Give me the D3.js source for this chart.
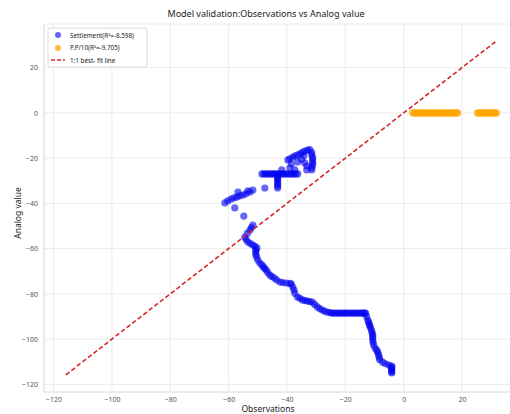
<!DOCTYPE html>
<html>
<head>
<meta charset="utf-8">
<script src="https://cdn.jsdelivr.net/npm/d3@7"></script>
<style>
  html, body { margin: 0; padding: 0; background: #fff; }
  svg { display: block; font-family: "Noto Sans", "DejaVu Sans", sans-serif; }
</style>
</head>
<body>
<svg id="chart" width="510" height="414"></svg>
<script>
// Settlement: observed vs simulated (mm)
const settlementObs = [
  // upper cluster
  -39.7, -39.0, -38.0, -37.2, -36.3, -35.4, -34.6, -33.8, -32.9, -32.2, -31.5, -31.5, -31.2,
  -31.2, -31.2, -31.2, -31.5, -31.5, -33.9, -33.2, -33.2, -36.3, -35.0, -37.3, -38.5, -34.2,
  // band at -27
  -48.6, -47.9, -47.3, -46.6, -45.9, -45.2, -44.5, -43.9, -43.2, -42.5, -41.8, -41.1, -40.4,
  -39.7, -39.0, -38.4, -37.7, -37.0, -36.3,
  -43.2, -43.2, -43.2, -43.2, -43.2, -43.2, -43.2, -41.8, -39.0, -47.6,
  // arc
  -61.3, -60.3, -59.2, -58.2, -57.2, -56.2, -55.1, -54.1, -52.7, -51.7, -56.8, -53.4,
  -57.9, -54.8,
  // descending branch
  -51.7, -52.2, -52.7, -53.6, -54.5, -54.0, -53.4, -52.5, -51.7, -51.0, -50.3, -50.7, -50.7,
  -50.7, -50.4, -50.0, -49.3, -48.6, -48.1, -47.6, -47.1, -46.6, -45.9, -45.2, -44.3, -43.5,
  -42.4, -41.4, -40.2, -39.0, -38.5, -38.0, -37.6, -37.3, -36.4, -35.6, -34.7, -33.9, -33.0,
  -32.2, -31.3, -30.5, -29.6, -28.8, -27.9, -27.1, -26.2, -25.3,
  -24.7, -24.0, -23.3, -22.6, -21.9, -21.2, -20.5, -19.9, -19.2, -18.5, -17.8, -17.1, -16.5,
  -15.8, -15.1, -14.4, -13.9, -13.4,
  -13.0, -12.7, -12.3, -12.0, -11.8, -11.6, -11.3, -11.0, -10.8, -10.6, -10.6, -10.6, -10.5,
  -10.3, -9.8, -9.2, -8.9, -8.6, -8.4, -8.2, -7.2, -6.2, -5.1, -4.1,
  -4.1, -4.1, -4.1, -4.1, -4.1
];
const settlementSim = [
  -20.8, -20.3, -19.5, -19.0, -18.6, -18.0, -17.3, -16.9, -16.4, -16.2, -17.5, -18.6, -19.8,
  -20.8, -22.0, -23.0, -24.2, -25.2, -22.1, -23.5, -25.2, -21.7, -20.5, -25.2, -22.5, -19.0,
  -27.0, -27.0, -27.0, -27.0, -27.0, -27.0, -27.0, -27.0, -27.0, -27.0, -27.0, -27.0, -27.0,
  -27.0, -27.0, -27.0, -27.0, -27.0, -27.0,
  -28.0, -28.8, -29.6, -30.5, -31.4, -32.3, -33.2, -25.2, -24.3, -33.2,
  -39.8, -38.9, -38.1, -37.6, -37.2, -36.7, -36.3, -35.8, -35.0, -34.1, -35.0, -34.5,
  -42.0, -45.6,
  -49.6, -50.7, -51.8, -53.3, -54.9, -56.0, -57.1, -57.8, -58.4, -59.0, -59.7, -60.6, -61.5,
  -62.6, -63.7, -65.0, -66.4, -67.2, -68.1, -68.8, -69.5, -70.6, -71.7, -72.3, -73.0, -73.9,
  -74.8, -75.0, -75.2, -75.4, -75.7, -77.0, -78.3, -79.8, -81.4, -82.0, -82.7, -83.0, -83.2,
  -83.4, -83.6, -84.7, -85.8, -86.5, -87.2, -87.6, -88.1, -88.3, -88.5,
  -88.5, -88.5, -88.5, -88.5, -88.5, -88.5, -88.5, -88.5, -88.5, -88.5, -88.5, -88.5, -88.5,
  -88.5, -88.5, -88.5, -88.5, -88.5,
  -90.0, -91.6, -92.5, -93.4, -94.2, -95.1, -96.2, -97.3, -98.2, -99.1, -100.2, -101.3, -102.6,
  -104.0, -104.9, -105.8, -106.9, -108.0, -109.1, -110.2, -110.9, -111.5, -112.0, -112.4,
  -113.0, -113.7, -114.4, -115.0, -115.8
];

// Pore pressure / 10: observed vs simulated
const ppObs = [3.1, 3.8, 4.4, 5.1, 5.7, 6.4, 7.0, 7.7, 8.3, 9.0, 9.6, 10.3, 10.9, 11.6, 12.2,
               12.9, 13.5, 14.2, 14.8, 15.5, 16.1, 16.8, 17.4, 18.0, 18.5,
               25.3, 25.9, 26.5, 27.1, 27.7, 28.3, 28.9, 29.5, 30.1, 30.7, 31.3, 31.8];
const ppSim = ppObs.map(() => 0);

const xTicks = [-120, -100, -80, -60, -40, -20, 0, 20];
const yTicks = [-120, -100, -80, -60, -40, -20, 0, 20];

const legendLabels = ["Settlement(R\u00b2=-8.598)", "P.P/10(R\u00b2=-9.705)", "1:1 best- fit line"];
const titleText = "Model validation:Observations vs Analog value";

const svg = d3.select("#chart");
const plot = { left: 44, right: 518, top: 24, bottom: 392 };

const x = d3.scaleLinear().domain([-123.3, 39.2]).range([plot.left, plot.right]);
const y = d3.scaleLinear().domain([-123.4, 39.3]).range([plot.bottom, plot.top]);

// grid
const grid = svg.append("g");
grid.selectAll(".gx").data(xTicks).join("line")
  .attr("x1", d => x(d)).attr("x2", d => x(d))
  .attr("y1", plot.top).attr("y2", plot.bottom)
  .attr("stroke", "#ececec").attr("stroke-width", 1);
grid.selectAll(".gy").data(yTicks).join("line")
  .attr("x1", plot.left).attr("x2", plot.right)
  .attr("y1", d => y(d)).attr("y2", d => y(d))
  .attr("stroke", "#ececec").attr("stroke-width", 1);

// frame
svg.append("line").attr("x1", plot.left).attr("x2", plot.right)
  .attr("y1", plot.top).attr("y2", plot.top).attr("stroke", "#ececec");
svg.append("line").attr("x1", plot.left).attr("x2", plot.left)
  .attr("y1", plot.top).attr("y2", plot.bottom).attr("stroke", "#d6d6d6");
svg.append("line").attr("x1", plot.left).attr("x2", plot.right)
  .attr("y1", plot.bottom).attr("y2", plot.bottom).attr("stroke", "#d6d6d6");

// axes
const xAxis = svg.append("g").attr("transform", `translate(0,${plot.bottom})`)
  .call(d3.axisBottom(x).tickValues(xTicks).tickSize(0).tickPadding(5).tickFormat(d3.format("d")));
const yAxis = svg.append("g").attr("transform", `translate(${plot.left},0)`)
  .call(d3.axisLeft(y).tickValues(yTicks).tickSize(0).tickPadding(6).tickFormat(d3.format("d")));
[xAxis, yAxis].forEach(a => {
  a.select(".domain").remove();
  a.selectAll("text").attr("fill", "#555").style("font-size", "7px")
    .style("font-family", "'Noto Sans', 'DejaVu Sans', sans-serif");
});

// points
const settlement = settlementObs.map((v, i) => ({ o: v, s: settlementSim[i] }));
const pp = ppObs.map((v, i) => ({ o: v, s: ppSim[i] }));

svg.append("g").selectAll("circle").data(settlement).join("circle")
  .attr("cx", d => x(d.o)).attr("cy", d => y(d.s)).attr("r", 3.6)
  .attr("fill", "#0000f0").attr("fill-opacity", 0.6);
svg.append("g").selectAll("circle").data(pp).join("circle")
  .attr("cx", d => x(d.o)).attr("cy", d => y(d.s)).attr("r", 3.6)
  .attr("fill", "#ffa500").attr("fill-opacity", 0.75);

// 1:1 line spanning all values
const all = settlementObs.concat(settlementSim, ppObs, ppSim);
const lo = d3.min(all), hi = d3.max(all);
svg.append("line")
  .attr("x1", x(lo)).attr("y1", y(lo)).attr("x2", x(hi)).attr("y2", y(hi))
  .attr("stroke", "#d62728").attr("stroke-width", 1.6).attr("stroke-dasharray", "4.5,2.5");

// title and axis labels
svg.append("text").attr("x", 266).attr("y", 17).attr("text-anchor", "middle")
  .style("font-size", "9px").attr("fill", "#222").text(titleText);
svg.append("text").attr("x", 268).attr("y", 412).attr("text-anchor", "middle")
  .style("font-size", "8.5px").attr("fill", "#222").text("Observations");
svg.append("text").attr("transform", "translate(21,213) rotate(-90)").attr("text-anchor", "middle")
  .style("font-size", "8.5px").attr("fill", "#222").text("Analog value");

// legend
const lg = svg.append("g").attr("transform", "translate(48,28)");
lg.append("rect").attr("width", 99).attr("height", 39).attr("rx", 2)
  .attr("fill", "#fff").attr("fill-opacity", 0.9).attr("stroke", "#dcdcdc");
lg.append("circle").attr("cx", 10).attr("cy", 7).attr("r", 3)
  .attr("fill", "#0000f0").attr("fill-opacity", 0.6);
lg.append("circle").attr("cx", 10).attr("cy", 20).attr("r", 3)
  .attr("fill", "#ffa500").attr("fill-opacity", 0.75);
lg.append("line").attr("x1", 3).attr("x2", 17).attr("y1", 32).attr("y2", 32)
  .attr("stroke", "#d62728").attr("stroke-width", 1.4).attr("stroke-dasharray", "4,2");
lg.selectAll(".lt").data(legendLabels).join("text")
  .attr("x", 22).attr("y", (d, i) => 9.5 + i * 12.5)
  .style("font-size", "6.3px").attr("fill", "#222").text(d => d);
</script>
</body>
</html>
